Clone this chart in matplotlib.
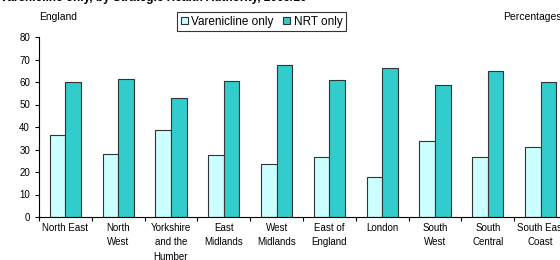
import numpy as np
import matplotlib
matplotlib.use("Agg")
import matplotlib.pyplot as plt
from matplotlib.ticker import FixedLocator, NullFormatter

plt.rcParams['font.family'] = ['Liberation Sans', 'DejaVu Sans']

regions = ["North East", "North\nWest", "Yorkshire\nand the\nHumber", "East\nMidlands",
           "West\nMidlands", "East of\nEngland", "London", "South\nWest",
           "South\nCentral", "South East\nCoast"]
varenicline = [36.4, 28.0, 38.6, 27.6, 23.4, 26.8, 17.9, 33.8, 26.8, 31.0]
nrt = [59.8, 61.3, 52.8, 60.6, 67.6, 61.0, 66.2, 58.5, 65.0, 60.1]

fig = plt.figure(figsize=(5.6, 2.6), dpi=100)
# axes runs slightly off the right edge, like the cropped original
ax = fig.add_axes([39 / 560, 1 - 217 / 260, 528 / 560, 180 / 260])

x = np.arange(len(regions))
w = 0.295
ax.bar(x - w / 2, varenicline, w, color="#CCFFFF", edgecolor="#333333", linewidth=0.8,
       label="Varenicline only")
ax.bar(x + w / 2, nrt, w, color="#33CCCC", edgecolor="#333333", linewidth=0.8,
       label="NRT only")

ax.set_xlim(-0.5, len(regions) - 0.5)
ax.set_ylim(0, 80)
ax.set_yticks(range(0, 81, 10))
ax.tick_params(axis="y", labelsize=7, length=3, width=0.8, direction="out")

ax.set_xticks(x)
ax.set_xticklabels(regions, fontsize=7, linespacing=1.6, va="top")
ax.tick_params(axis="x", which="major", length=0, pad=4)
ax.xaxis.set_minor_locator(FixedLocator(np.arange(-0.5, len(regions), 1)))
ax.xaxis.set_minor_formatter(NullFormatter())
ax.tick_params(axis="x", which="minor", length=3, width=0.8, direction="out")

for s in ["top", "right"]:
    ax.spines[s].set_visible(False)
for s in ["left", "bottom"]:
    ax.spines[s].set_linewidth(0.8)

leg = ax.legend(loc="upper left", ncol=2, fontsize=8.5, frameon=True, fancybox=False,
                handlelength=0.6, handleheight=0.6, handletextpad=0.3, columnspacing=0.8,
                borderpad=0.3, borderaxespad=0)
leg.get_frame().set_edgecolor("black")
leg.get_frame().set_linewidth(0.8)
leg.set_bbox_to_anchor((177 / 560, 1 - 12 / 260), transform=fig.transFigure)

fig.text(39 / 560, 1 - 17 / 260, "England", fontsize=7.5, va="center", ha="left")
fig.text(503 / 560, 1 - 17 / 260, "Percentages", fontsize=7.5, va="center", ha="left")
fig.text(0, 1 + 2.5 / 260, "Varenicline only, by Strategic Health Authority, 2009/10",
         fontsize=8.5, fontweight="bold", va="center", ha="left")

fig.savefig("out.png", dpi=100)
